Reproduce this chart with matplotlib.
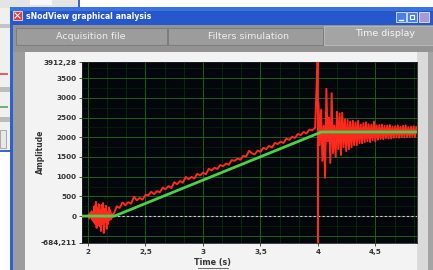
import numpy as np
import matplotlib
matplotlib.use("Agg")
import matplotlib.pyplot as plt
from matplotlib.patches import Rectangle

# ---- data ----
y_ticks = [-684.211, 0, 500, 1000, 1500, 2000, 2500, 3000, 3500, 3912.28]
y_labels = ["-684,211", "0", "500", "1000", "1500", "2000", "2500", "3000", "3500", "3912,28"]
x_ticks = [2, 2.5, 3, 3.5, 4, 4.5]
x_labels = ["2", "2,5", "3", "3,5", "4", "4,5"]

# fitted (green) curve: breakpoints
green_t = [1.948, 2.23, 4.03, 4.861]
green_v = [0, 0, 2135, 2135]

# raw (red) signal, pre-trigger noise
pre_t = np.arange(36) * 0.00625 + 2.0
pre_v = [0, 40, -60, 80, -30, 120, -90, 60, -150, 250, -200, 360, -300, 200, -120,
         300, -250, 150, -380, 280, -200, 330, -430, 180, -150, 260, -320, 100, -200,
         220, -100, 150, -80, 60, -30, 20]

# raw signal on the ramp
ramp_t = np.arange(71) * 0.025 + 2.225
ramp_v = [60, 247, 207, 345, 274, 353, 313, 492, 401, 460, 419, 538, 527, 617, 556,
          635, 604, 723, 682, 761, 710, 859, 809, 888, 847, 996, 935, 994, 953, 1072,
          1032, 1101, 1060, 1199, 1158, 1227, 1196, 1295, 1264, 1334, 1303, 1422, 1401,
          1460, 1429, 1528, 1507, 1657, 1596, 1565, 1664, 1633, 1732, 1701, 1780, 1739,
          1859, 1828, 1887, 1856, 1965, 1934, 2014, 1984, 2085, 2055, 2135, 2095, 2195,
          2175, 2245]

# impact spike at t = 4 s
spike_t = [3.998, 3.999, 4.0, 4.001, 4.002]
spike_v = [4100, 3000, -800, 600, 2900]

# decaying oscillation after the impact
post_t = np.arange(75) * 0.0115 + 4.004
post_v = [2800, 1800, 2700, 1400, 2300, 970,
          3230, 1900, 2500, 1350,
          3120, 1600, 2300, 1500,
          2650, 1700, 2600, 1550,
          2620, 1750, 2450, 1650,
          2440, 1700, 2400, 1750,
          2420, 1800, 2380, 1800,
          2420, 1850, 2320, 1850,
          2360, 1880, 2380, 1900,
          2330, 1880, 2320, 1930,
          2400, 1900, 2300, 1940,
          2310, 1960, 2320, 1950,
          2290, 1980, 2300, 1970,
          2310, 1970, 2270, 1990,
          2280, 2000, 2300, 1990,
          2270, 2010, 2290, 2000,
          2300, 2010, 2260, 2010,
          2270, 2020, 2280, 2010,
          2260]

red_t = np.concatenate([pre_t, ramp_t, spike_t, post_t])
red_v = np.concatenate([pre_v, ramp_v, spike_v, post_v])

W, H = 433, 270
fig = plt.figure(figsize=(W / 100, H / 100), dpi=100)

# ---- window chrome, drawn in pixel coordinates ----
bg = fig.add_axes([0, 0, 1, 1])
bg.set_xlim(0, W)
bg.set_ylim(H, 0)
bg.axis("off")


def box(x, y, w, h, fc, ec="none", lw=0.0):
    bg.add_patch(Rectangle((x, y), w, h, facecolor=fc, edgecolor=ec, linewidth=lw))


box(0, 0, W, H, "white")
# window behind, on the left
box(0, 0, 80, 8, "#e4e4e4")
box(30, 0, 22, 5, "#f7f7f7")
box(78, 0, 2, 8, "#3a68c8")
box(0, 8, 10, 144, "#f0f0f0")
box(0, 24, 10, 4, "#c4c4c4")
box(0, 73, 8, 2, "#e06060")
box(0, 87, 10, 5, "#bcbcbc")
box(0, 106, 8, 2, "#70b070")
box(0, 117, 10, 5, "#bcbcbc")
box(0, 130, 6, 18, "#e8e8e8", "#909090", 0.5)
box(0, 150, 10, 2, "#3a68c8")

# main window
box(10, 7, W - 10, H - 7, "#9c9c9c")
box(10, 7, 3, H - 7, "#2d60d0")
box(10, 7, W - 10, 18, "#2658cc")
box(10, 7, W - 10, 4, "#3a72e0")
box(13, 11, 9, 9, "#e03a30", "white", 0.5)
bg.plot([15, 20], [13, 18], color="white", lw=0.8)
bg.plot([15, 20], [18, 13], color="white", lw=0.8)
bg.text(26, 16.5, "sNodView graphical analysis", color="white", fontsize=5.6,
        fontweight="bold", va="center", ha="left")
box(396, 12, 10, 10, "#4a80ea", "#dfe8ff", 0.6)
box(407, 12, 10, 10, "#4a80ea", "#dfe8ff", 0.6)
box(419, 12, 10, 10, "#a89ad8", "#e8e0ff", 0.6)
bg.plot([399, 403], [19.5, 19.5], color="white", lw=1)
box(410, 15, 4, 4, "none", "white", 0.8)

# tab strip
box(13, 25, W - 13, 27, "#939393")
box(16, 28, 151, 17, "#9c9c9c", "#787878", 0.6)
box(168, 28, 155, 17, "#9c9c9c", "#787878", 0.6)
box(324, 26, W - 324, 19, "#a4a4a4", "#bcbcbc", 0.6)
bg.text(91, 36.5, "Acquisition file", color="#eeeeee", fontsize=6.8, ha="center", va="center")
bg.text(248, 36.5, "Filters simulation", color="#eeeeee", fontsize=6.8, ha="center", va="center")
bg.text(385, 34, "Time display", color="#f6f6f6", fontsize=6.8, ha="center", va="center")

# chart panel
box(25, 52, 392, H - 52, "#f3f3f3")
box(417, 52, 11, H - 52, "#dadada")
box(428, 52, 5, H - 52, "#a4a4a4")

bg.text(40, 152, "Amplitude", rotation=90, fontsize=5.5, fontweight="bold",
        color="#333333", ha="center", va="center")
bg.text(212, 263, "Time (s)", fontsize=5.8, fontweight="bold", color="#333333",
        ha="center", va="center")
bg.plot([198, 228], [267.5, 267.5], color="#555555", lw=0.6)

# ---- the graph ----
ax = fig.add_axes([82 / W, (H - 243) / H, 335 / W, 181 / H])
ax.set_facecolor("#03060a")
ax.set_xlim(1.948, 4.861)
ax.set_ylim(-684.211, 3912.28)

for v in np.arange(2 - 1 / 6, 4.9, 1 / 6):
    major = abs(v * 2 - round(v * 2)) < 1e-6
    ax.axvline(v, color="#1c5e1c" if major else "#0b3310", lw=0.7 if major else 0.5, zorder=1)
for v in np.arange(-500, 4000, 250):
    major = v % 500 == 0
    ax.axhline(v, color="#1c5e1c" if major else "#0a2a0c", lw=0.7 if major else 0.4, zorder=1)

ax.axhline(0, color="#e6c0e0", lw=0.8, ls=(0, (2, 2)), zorder=2)
ax.plot(red_t, red_v, color="#ff2a1e", lw=1.4, zorder=3)
ax.plot(green_t, green_v, color="#4ccf4c", lw=2.0, zorder=4, solid_capstyle="butt")

ax.set_yticks(y_ticks)
ax.set_yticklabels(y_labels)
ax.set_xticks(x_ticks)
ax.set_xticklabels(x_labels)
ax.tick_params(direction="out", length=2.5, width=0.6, colors="#333333",
               labelsize=5.2, pad=1.5)
for lab in ax.get_xticklabels() + ax.get_yticklabels():
    lab.set_fontweight("bold")
for s in ax.spines.values():
    s.set_color("#222222")
    s.set_linewidth(0.6)

fig.savefig("out.png", dpi=100)
